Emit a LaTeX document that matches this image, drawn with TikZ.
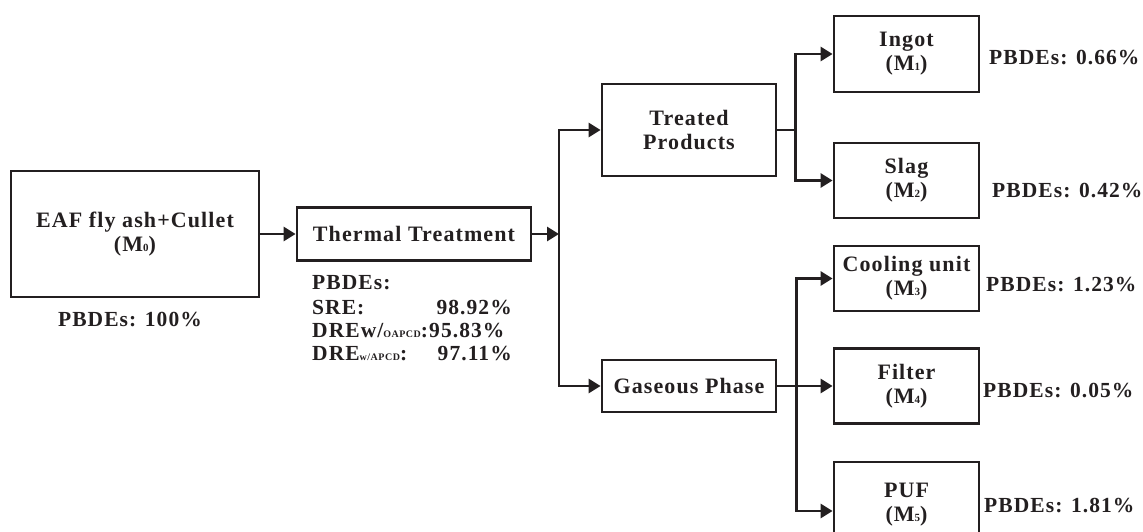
\documentclass[tikz,border=0pt]{standalone}
\usepackage{fontspec}
\setmainfont{Liberation Serif}
\newfontfamily\spfam{Liberation Serif}[LetterSpace=5]
\usetikzlibrary{arrows.meta}
\definecolor{ink}{RGB}{35,31,32}
\newcommand\subsm[1]{{\fontsize{11}{11}\selectfont #1}}
\newcommand\subxs[1]{{\fontsize{10}{10}\selectfont #1}}
\tikzset{
  box/.style={draw=ink, line width=2.8pt, rectangle, inner sep=0pt, align=center,
    text=ink, font=\spfam\bfseries\fontsize{22}{24}\selectfont, minimum width=145pt},
  lbl/.style={inner sep=0pt, text=ink, font=\spfam\bfseries\fontsize{21.5}{24}\selectfont},
  ln/.style={draw=ink, line width=2.8pt},
  arr/.style={ln, -{Triangle[length=12pt,width=14pt]}},
}
\begin{document}
\begin{tikzpicture}[x=1pt,y=-1pt]
\useasboundingbox (0,0) rectangle (1143,531);
% boxes
\node[box, minimum width=248pt, minimum height=126pt] (eaf) at (135,234) {EAF fly ash+Cullet\\(M\subsm{0})};
\node[box, minimum width=234pt, minimum height=53pt] (th) at (414,234) {Thermal Treatment};
\node[box, minimum width=174pt, minimum height=92pt] (tr) at (689,130) {Treated\\Products};
\node[box, minimum width=174pt, minimum height=52pt] (gas) at (689,386) {Gaseous Phase};
\node[box, minimum height=76pt] (ing) at (906.5,54) {Ingot\\(M\subsm{1})};
\node[box, minimum height=75pt] (slag) at (906.5,180.5) {Slag\\(M\subsm{2})};
\node[box, minimum height=65pt] (cool) at (906.5,278.5) {Cooling unit\\(M\subsm{3})};
\node[box, minimum height=75pt] (fil) at (906.5,386) {Filter\\(M\subsm{4})};
\node[box, minimum height=86pt] (puf) at (906.5,505) {PUF\\(M\subsm{5})};
% labels
\node[lbl] (l0) at (130,319) {PBDEs: 100\%};
\node[lbl, anchor=base west] (tp) at (312,289) {PBDEs:};
\node[lbl, anchor=base west] (tsre) at (312,314) {SRE:};
\node[lbl, anchor=base east] (tsrev) at (512,314) {98.92\%};
\node[lbl, anchor=base west] (tdo) at (312,337) {DREw/\subxs{OAPCD}:95.83\%};
\node[lbl, anchor=base west] (tdw) at (312,360) {DRE\subxs{w/APCD}:};
\node[lbl, anchor=base east] (tdwv) at (512,360) {97.11\%};
\node[lbl, anchor=west] (l1) at (989,57) {PBDEs: 0.66\%};
\node[lbl, anchor=west] (l2) at (992,190) {PBDEs: 0.42\%};
\node[lbl, anchor=west] (l3) at (986,284) {PBDEs: 1.23\%};
\node[lbl, anchor=west] (l4) at (983,390) {PBDEs: 0.05\%};
\node[lbl, anchor=west] (l5) at (984,505) {PBDEs: 1.81\%};
% connectors
\coordinate (j1) at (559,234);
\path (tr.east) ++(18,0) coordinate (j2);
\path (gas.east) ++(19,0) coordinate (j3);
\draw[arr] (eaf.east) -- (th.west);
\draw[arr] (th.east) -- (j1);
\draw[arr] (j1) |- (tr.west);
\draw[arr] (j1) |- (gas.west);
\draw[ln] (tr.east) -- (j2);
\draw[arr] (j2) |- (ing.west);
\draw[arr] (j2) |- (slag.west);
\draw[arr] (gas.east) -- (fil.west);
\draw[arr] (j3) |- (cool.west);
\draw[arr] (j3) |- ([yshift=-6pt]puf.west);
\end{tikzpicture}
\end{document}
